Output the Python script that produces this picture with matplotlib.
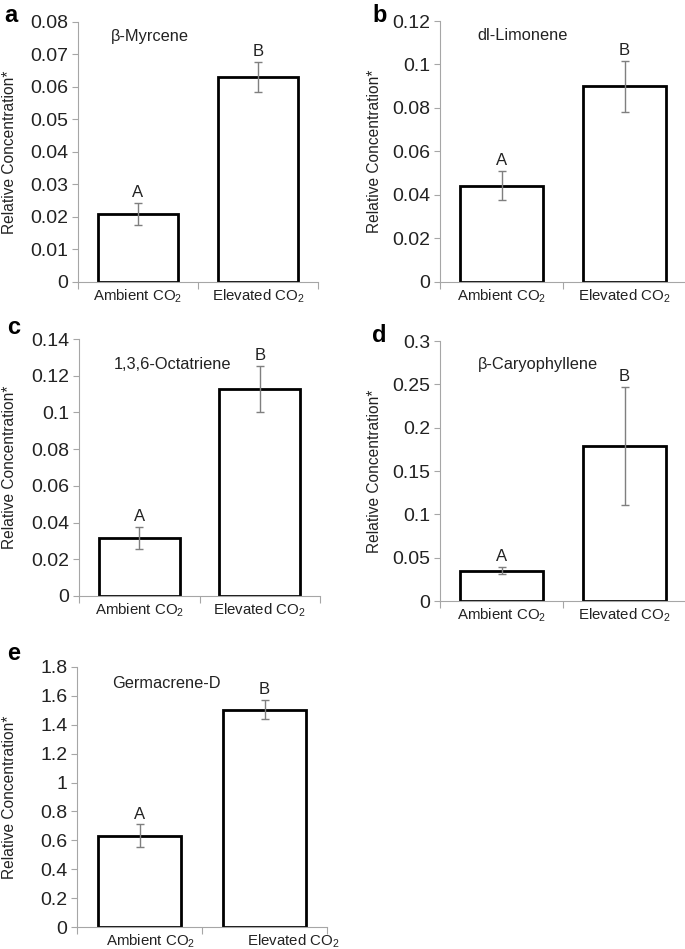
import numpy as np
import matplotlib
matplotlib.use("Agg")
import matplotlib.pyplot as plt
from matplotlib.transforms import ScaledTranslation

plt.rcParams['font.family'] = ['Liberation Sans', 'DejaVu Sans']
plt.rcParams['mathtext.fontset'] = 'custom'
plt.rcParams['mathtext.rm'] = 'Liberation Sans'
plt.rcParams['mathtext.it'] = 'Liberation Sans'

categories = ['Ambient CO$_2$', 'Elevated CO$_2$']
compounds = ['β-Myrcene', 'dl-Limonene', '1,3,6-Octatriene', 'β-Caryophyllene', 'Germacrene-D']
panel_tags = ['a', 'b', 'c', 'd', 'e']
letters = ['A', 'B']

myrcene = [0.0210, 0.0631]
myrcene_err = [0.0034, 0.0047]
limonene = [0.0443, 0.0900]
limonene_err = [0.0068, 0.0118]
octatriene = [0.0316, 0.1128]
octatriene_err = [0.0061, 0.0125]
caryophyllene = [0.0350, 0.1790]
caryophyllene_err = [0.0044, 0.0680]
germacrene = [0.633, 1.505]
germacrene_err = [0.078, 0.067]

values = [myrcene, limonene, octatriene, caryophyllene, germacrene]
errors = [myrcene_err, limonene_err, octatriene_err, caryophyllene_err, germacrene_err]
ymax = [0.08, 0.12, 0.14, 0.3, 1.8]
ystep = [0.01, 0.02, 0.02, 0.05, 0.2]

W, H = 685, 949
# axes boxes in pixels: left, top, right, bottom
boxes = [(78, 22, 318, 282), (440, 21, 686, 282), (79, 339, 320, 596),
         (440, 341, 686, 601), (77, 667, 327, 927)]
name_pos = [(0.30, 0.946), (0.337, 0.946), (0.386, 0.899), (0.398, 0.908), (0.356, 0.938)]
ylab_x = [-0.254, -0.236, -0.257, -0.236, -0.24]
tag_pos = [(4, 15), (372, 15), (7, 328), (372, 335), (7, 653)]
# panel e has its category labels shifted right (pixels)
label_shift = [(0, 0), (0, 0), (0, 0), (0, 0), (11, 29)]

fig = plt.figure(figsize=(W / 100, H / 100), dpi=100)
spine_col = '#a6a6a6'
txt_col = '#222222'

for i in range(5):
    l, t, r, b = boxes[i]
    ax = fig.add_axes([l / W, 1 - b / H, (r - l) / W, (b - t) / H])
    x = np.arange(len(categories))
    ax.bar(x, values[i], width=0.67, color='white', edgecolor='black', linewidth=2.0, zorder=2)
    ax.errorbar(x, values[i], yerr=errors[i], fmt='none', ecolor='#7f7f7f',
                elinewidth=1.0, capsize=3, capthick=1.0, zorder=3)
    for j in range(len(categories)):
        ax.annotate(letters[j], (x[j], values[i][j] + errors[i][j]), xytext=(0, 2),
                    textcoords='offset points', ha='center', va='bottom',
                    fontsize=12, color=txt_col)
    ax.set_xlim(-0.5, 1.5)
    ax.set_ylim(0, ymax[i])
    ticks = np.round(np.arange(0, ymax[i] + ystep[i] / 2, ystep[i]), 4)
    ax.set_yticks(ticks)
    ax.set_yticklabels(['%g' % v for v in ticks])
    ax.set_xticks(x)
    ax.set_xticklabels(categories)
    ax.set_xticks([-0.5, 0.5, 1.5], minor=True)
    ax.tick_params(axis='x', which='major', length=0, pad=4, labelsize=10.8, colors=txt_col)
    ax.tick_params(axis='x', which='minor', length=5, color=spine_col, width=0.8)
    ax.tick_params(axis='y', length=4, color=spine_col, width=0.8, pad=3,
                   labelsize=14, labelcolor=txt_col)
    for lab, dx in zip(ax.get_xticklabels(), label_shift[i]):
        lab.set_transform(lab.get_transform() + ScaledTranslation(dx / 100, 0, fig.dpi_scale_trans))
    for s in ['top', 'right']:
        ax.spines[s].set_visible(False)
    for s in ['left', 'bottom']:
        ax.spines[s].set_color(spine_col)
        ax.spines[s].set_linewidth(0.8)
    ax.set_ylabel('Relative Concentration*', fontsize=11.2, color=txt_col)
    ax.yaxis.set_label_coords(ylab_x[i], 0.5)
    ax.text(name_pos[i][0], name_pos[i][1], compounds[i], transform=ax.transAxes,
            ha='center', va='center', fontsize=11.8, color=txt_col)
    fig.text(tag_pos[i][0] / W, 1 - tag_pos[i][1] / H, panel_tags[i], fontsize=17,
             fontweight='bold', ha='left', va='center')

fig.savefig('out.png', dpi=100)
